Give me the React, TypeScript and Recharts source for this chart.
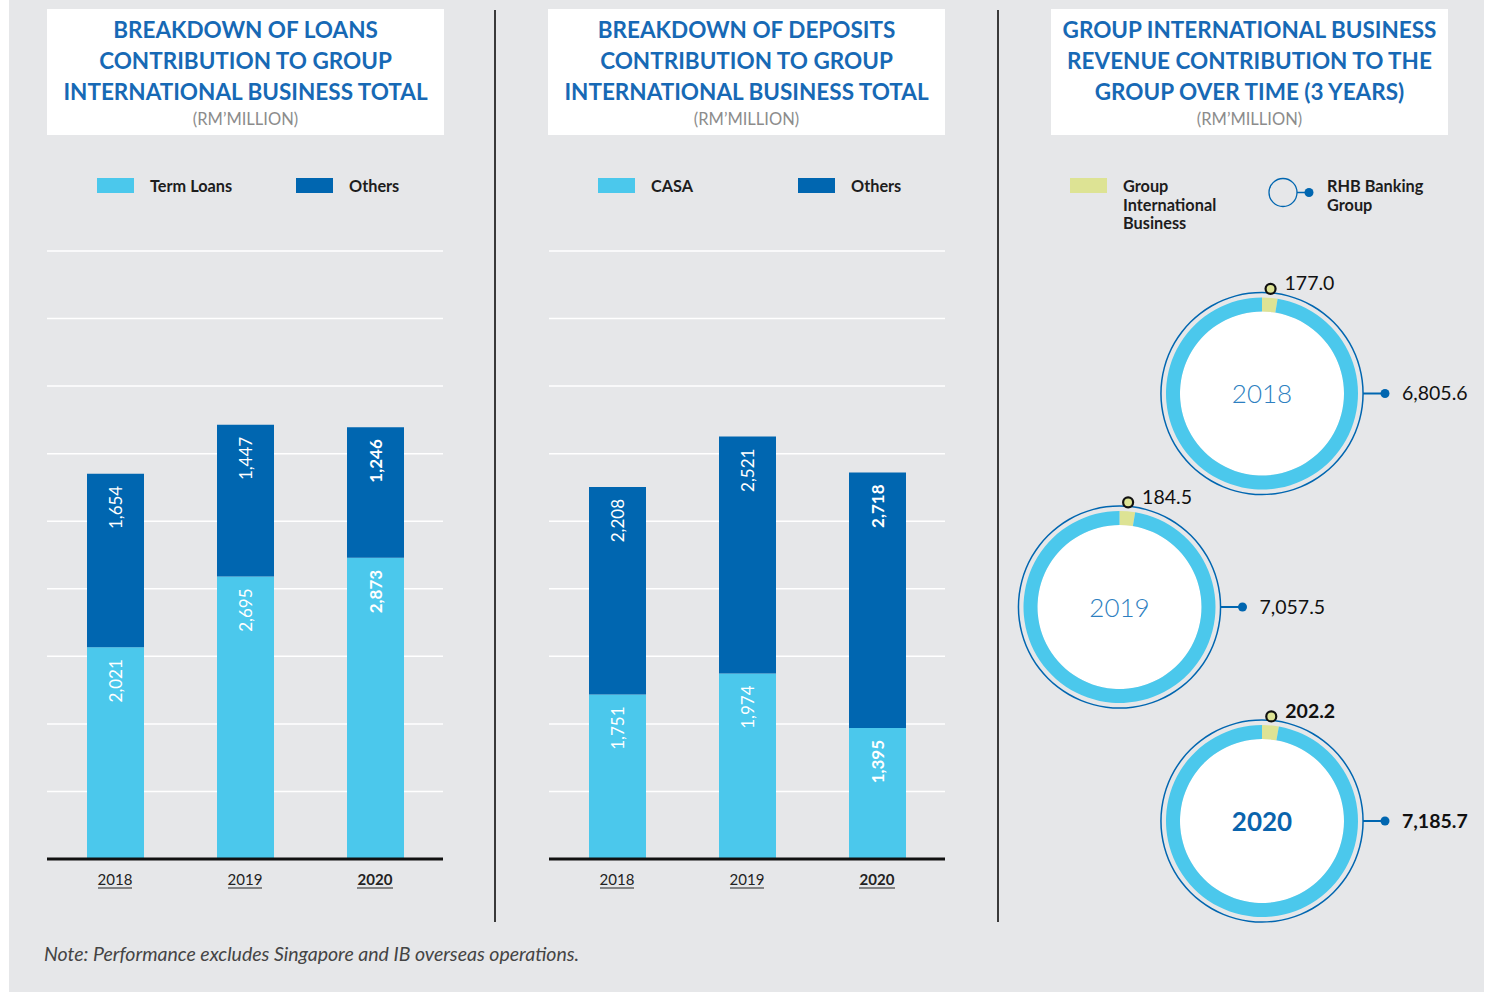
import React from "react";
import { BarChart, Bar, XAxis, YAxis, CartesianGrid, LabelList, PieChart, Pie, Cell } from "recharts";

const years = ["2018", "2019", "2020"];
const termLoans = [2021, 2695, 2873];
const loanOthers = [1654, 1447, 1246];
const casa = [1751, 1974, 1395];
const depositOthers = [2208, 2521, 2718];
const gibRevenue = [177.0, 184.5, 202.2];
const groupRevenue = [6805.6, 7057.5, 7185.7];

const LIGHT = "#4bc8ec";
const DARK = "#0066b0";
const LIME = "#dde394";
const BG = "#e6e7e9";
const TITLE = "#1769b5";
const FONT = "Lato, 'Open Sans', sans-serif";
const RAD = Math.PI / 180;

const loanData = years.map((y, i) => ({ year: y, a: termLoans[i], b: loanOthers[i] }));
const depositData = years.map((y, i) => ({ year: y, a: casa[i], b: depositOthers[i] }));

const fmt = (v: number) => v.toLocaleString("en-US");

function BarValue(props: any) {
  const { x, y, width, value, index } = props;
  const cx = x + width / 2;
  const ty = y + 12;
  return (
    <text
      x={cx}
      y={ty}
      transform={`rotate(-90, ${cx}, ${ty})`}
      textAnchor="end"
      dominantBaseline="central"
      fill="#fff"
      fontSize={17}
      fontWeight={index === 2 ? 700 : 400}
      fontFamily={FONT}
    >
      {fmt(value)}
    </text>
  );
}

function YearTick(props: any) {
  const { x, y, payload, index } = props;
  const bold = index === 2;
  const half = bold ? 18 : 17;
  return (
    <g>
      <text x={x} y={y + 26} textAnchor="middle" fontSize={15} fontWeight={bold ? 700 : 400} fill="#222" fontFamily={FONT}>
        {payload.value}
      </text>
      <line x1={x - half} x2={x + half} y1={y + 29} y2={y + 29} stroke="#222" strokeWidth={1} />
    </g>
  );
}

function StackChart({ data, top, left }: { data: any[]; top: number; left: number }) {
  const max = top;
  const ticks = Array.from({ length: 10 }, (_, i) => (max * i) / 9);
  return (
    <div style={{ position: "absolute", left, top: 240 }}>
      <BarChart width={396} height={660} data={data} margin={{ top: 11, right: 0, left: 0, bottom: 0 }} barSize={57}>
        <CartesianGrid vertical={false} stroke="#fff" strokeWidth={1.5} />
        <YAxis hide domain={[0, max]} ticks={ticks} width={0} />
        <XAxis
          dataKey="year"
          height={41}
          padding={{ left: 3, right: 3 }}
          tickLine={false}
          tickSize={0}
          tickMargin={0}
          axisLine={{ stroke: "#111", strokeWidth: 3 }}
          tick={<YearTick />}
        />
        <Bar dataKey="a" stackId="s" fill={LIGHT} isAnimationActive={false}>
          <LabelList dataKey="a" content={<BarValue />} />
        </Bar>
        <Bar dataKey="b" stackId="s" fill={DARK} isAnimationActive={false}>
          <LabelList dataKey="b" content={<BarValue />} />
        </Bar>
      </BarChart>
    </div>
  );
}

function TitleBox({ left, lines }: { left: number; lines: string[] }) {
  return (
    <div
      style={{
        position: "absolute",
        left,
        top: 9,
        width: 397,
        height: 126,
        background: "#fff",
        textAlign: "center",
        fontFamily: FONT,
      }}
    >
      <div style={{ paddingTop: 5, color: TITLE, fontWeight: 700, fontSize: 22.5, lineHeight: "31px" }}>
        {lines.map((l) => (
          <div key={l}>{l}</div>
        ))}
      </div>
      <div style={{ color: "#8c8c8c", fontSize: 16.5, lineHeight: "20px", marginTop: 2 }}>(RM’MILLION)</div>
    </div>
  );
}

function SwatchItem({ left, color, label }: { left: number; color: string; label: string }) {
  return (
    <>
      <div style={{ position: "absolute", left, top: 178, width: 37, height: 15, background: color }} />
      <div style={{ position: "absolute", left: left + 53, top: 176, fontSize: 16.3, fontWeight: 700, color: "#1d1d1d", lineHeight: "20px" }}>
        {label}
      </div>
    </>
  );
}

const disc = [{ v: 1 }];
const donutCenters = [
  [262, 243.5],
  [119.5, 457],
  [262, 671],
];

function makeLabel(i: number) {
  return (p: any) => {
    const { cx, cy, midAngle, index } = p;
    const bold = i === 2;
    if (index === 0) {
      const a = -midAngle * RAD;
      const dx = cx + 105 * Math.cos(a);
      const dy = cy + 105 * Math.sin(a);
      return (
        <g>
          <circle cx={dx} cy={dy} r={5} fill={LIME} stroke="#111" strokeWidth={2.2} />
          <text x={dx + 14} y={dy - 6} dominantBaseline="central" fontSize={19.5} fontWeight={bold ? 700 : 400} fill="#111" fontFamily={FONT}>
            {gibRevenue[i].toFixed(1)}
          </text>
          <text
            x={cx}
            y={cy - 0.5}
            textAnchor="middle"
            dominantBaseline="central"
            fontSize={26}
            fontWeight={bold ? 700 : 300}
            fill={bold ? "#0a64ad" : "#2d7fc1"}
            fontFamily={FONT}
          >
            {years[i]}
          </text>
        </g>
      );
    }
    return (
      <g>
        <line x1={cx + 101} x2={cx + 123} y1={cy} y2={cy} stroke={DARK} strokeWidth={2} />
        <circle cx={cx + 123} cy={cy} r={4.5} fill={DARK} />
        <text x={cx + 140} y={cy - 1} dominantBaseline="central" fontSize={19.5} fontWeight={bold ? 700 : 400} fill="#111" fontFamily={FONT}>
          {groupRevenue[i].toLocaleString("en-US", { minimumFractionDigits: 1 })}
        </text>
      </g>
    );
  };
}

function Donuts() {
  return (
    <div style={{ position: "absolute", left: 1000, top: 150 }}>
      <PieChart width={486} height={800} margin={{ top: 0, right: 0, bottom: 0, left: 0 }}>
        {years.map((y, i) => {
          const [cx, cy] = donutCenters[i];
          const ring = [
            { name: "Group International Business", value: gibRevenue[i] },
            { name: "Rest of RHB Banking Group", value: groupRevenue[i] - gibRevenue[i] },
          ];
          return [
            <Pie key={`w${y}`} data={disc} dataKey="v" cx={cx} cy={cy} innerRadius={0} outerRadius={82} fill="#fff" stroke="none" isAnimationActive={false} />,
            <Pie key={`o${y}`} data={disc} dataKey="v" cx={cx} cy={cy} innerRadius={100.3} outerRadius={101.8} fill={DARK} stroke="none" isAnimationActive={false} />,
            <Pie
              key={`r${y}`}
              data={ring}
              dataKey="value"
              nameKey="name"
              cx={cx}
              cy={cy}
              innerRadius={82}
              outerRadius={96}
              startAngle={90}
              endAngle={-270}
              stroke="none"
              labelLine={false}
              label={makeLabel(i)}
              isAnimationActive={false}
            >
              <Cell fill={LIME} />
              <Cell fill={LIGHT} />
            </Pie>,
          ];
        })}
      </PieChart>
    </div>
  );
}

export default function App() {
  return (
    <div style={{ position: "absolute", left: 0, top: 0, width: 1486, height: 994, background: "#fff", fontFamily: FONT, overflow: "hidden" }}>
      <div style={{ position: "absolute", left: 9, top: 0, width: 1475, height: 992, background: BG }} />

      <TitleBox left={47} lines={["BREAKDOWN OF LOANS", "CONTRIBUTION TO GROUP", "INTERNATIONAL BUSINESS TOTAL"]} />
      <TitleBox left={548} lines={["BREAKDOWN OF DEPOSITS", "CONTRIBUTION TO GROUP", "INTERNATIONAL BUSINESS TOTAL"]} />
      <TitleBox left={1051} lines={["GROUP INTERNATIONAL BUSINESS", "REVENUE CONTRIBUTION TO THE", "GROUP OVER TIME (3 YEARS)"]} />

      <div style={{ position: "absolute", left: 494, top: 10, width: 1.5, height: 912, background: "#3a3a3a" }} />
      <div style={{ position: "absolute", left: 997, top: 10, width: 1.5, height: 912, background: "#3a3a3a" }} />

      <SwatchItem left={97} color={LIGHT} label="Term Loans" />
      <SwatchItem left={296} color={DARK} label="Others" />
      <SwatchItem left={598} color={LIGHT} label="CASA" />
      <SwatchItem left={798} color={DARK} label="Others" />

      <div style={{ position: "absolute", left: 1070, top: 178, width: 37, height: 15, background: LIME }} />
      <div style={{ position: "absolute", left: 1123, top: 177, fontSize: 16.3, fontWeight: 700, color: "#1d1d1d", lineHeight: "18.5px" }}>
        Group
        <br />
        International
        <br />
        Business
      </div>
      <svg style={{ position: "absolute", left: 1266, top: 175 }} width={50} height={36}>
        <circle cx={17} cy={17.5} r={14} fill="none" stroke={DARK} strokeWidth={1.3} />
        <line x1={31} x2={42} y1={17.5} y2={17.5} stroke={DARK} strokeWidth={1.5} />
        <circle cx={43} cy={17.5} r={4.5} fill={DARK} />
      </svg>
      <div style={{ position: "absolute", left: 1327, top: 177, fontSize: 16.3, fontWeight: 700, color: "#1d1d1d", lineHeight: "18.5px" }}>
        RHB Banking
        <br />
        Group
      </div>

      <StackChart data={loanData} top={5800} left={47} />
      <StackChart data={depositData} top={6470} left={549} />
      <Donuts />

      <div style={{ position: "absolute", left: 44, top: 941, fontSize: 19.5, fontStyle: "italic", color: "#444", lineHeight: "26px" }}>
        Note: Performance excludes Singapore and IB overseas operations.
      </div>
    </div>
  );
}
